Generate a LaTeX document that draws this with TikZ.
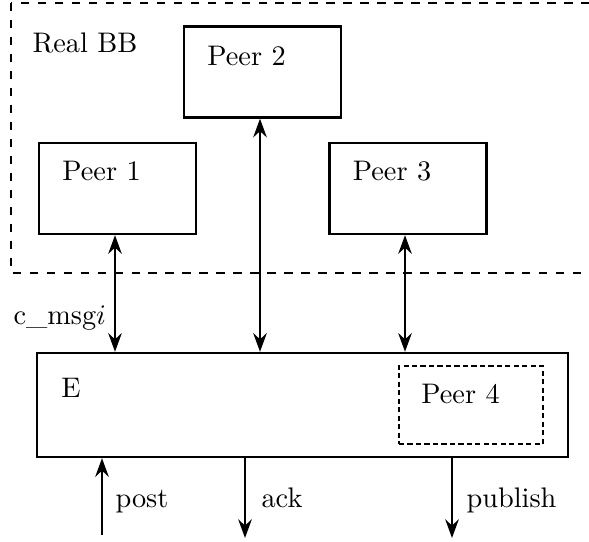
\documentclass[tikz,border=0pt]{standalone}
\usepackage{amsmath,amssymb}
\usepackage{tikz}
\usetikzlibrary{arrows.meta}

\tikzset{
	peerbox/.style={draw, thick, minimum width=55.5pt, minimum height=32.2pt},
	boxlabel/.style={anchor=base west, inner sep=0pt}
}

\begin{document}
\begin{tikzpicture}[x=0.3534pt, y=-0.3534pt, >={Stealth[length=6.6pt, width=4.8pt, inset=2.2pt]}]
	\useasboundingbox (0,0) rectangle (589,542);
	\clip (0,0) rectangle (589,542);
	% the real bulletin board
	\draw[dashed, thick] (11,3) rectangle (650,273);
	\node[boxlabel] (bb) at (32,53) {Real BB};
	\node[peerbox] (p1) at (117.5,188.5) {};
	\node[peerbox] (p2) at (262.5,72) {};
	\node[peerbox] (p3) at (408,188.5) {};
	\node[boxlabel] (p1-t) at ([shift={(24,39)}]p1.north west) {Peer 1};
	\node[boxlabel] (p2-t) at ([shift={(24,40)}]p2.north west) {Peer 2};
	\node[boxlabel] (p3-t) at ([shift={(24,39)}]p3.north west) {Peer 3};
	% the emulator
	\node[draw, thick, minimum width=187.7pt, minimum height=36.8pt] (e) at (302.5,405) {};
	\node[boxlabel] (e-t) at ([shift={(25,-7)}]e.west) {E};
	\node[draw, thick, dash pattern=on 1.8pt off 1.2pt, minimum width=50.9pt, minimum height=27.6pt] (p4) at (471,405) {};
	\node[boxlabel] (p4-t) at ([shift={(23,39)}]p4.north west) {Peer 4};
	\coordinate (a1) at (115,0);
	\coordinate (a2) at (260,0);
	\coordinate (a3) at (405,0);
	\coordinate (post) at (102,535);
	\coordinate (ack) at (245,538);
	\coordinate (publish) at (452,538);
	\path[<->, thick]
		(a1 |- p1.south) edge (a1 |- e.north)
		(a2 |- p2.south) edge (a2 |- e.north)
		(a3 |- p3.south) edge (a3 |- e.north);
	\path[->, thick]
		(post) edge (post |- e.south)
		(ack |- e.south) edge (ack)
		(publish |- e.south) edge (publish);
	\node[boxlabel] (msg) at (13,325) {c\_msg\(i\)};
	\node[boxlabel] (post-t) at (115,508) {post};
	\node[boxlabel] (ack-t) at (261,508) {ack};
	\node[boxlabel] (publish-t) at (466,508) {publish};
\end{tikzpicture}
\end{document}
